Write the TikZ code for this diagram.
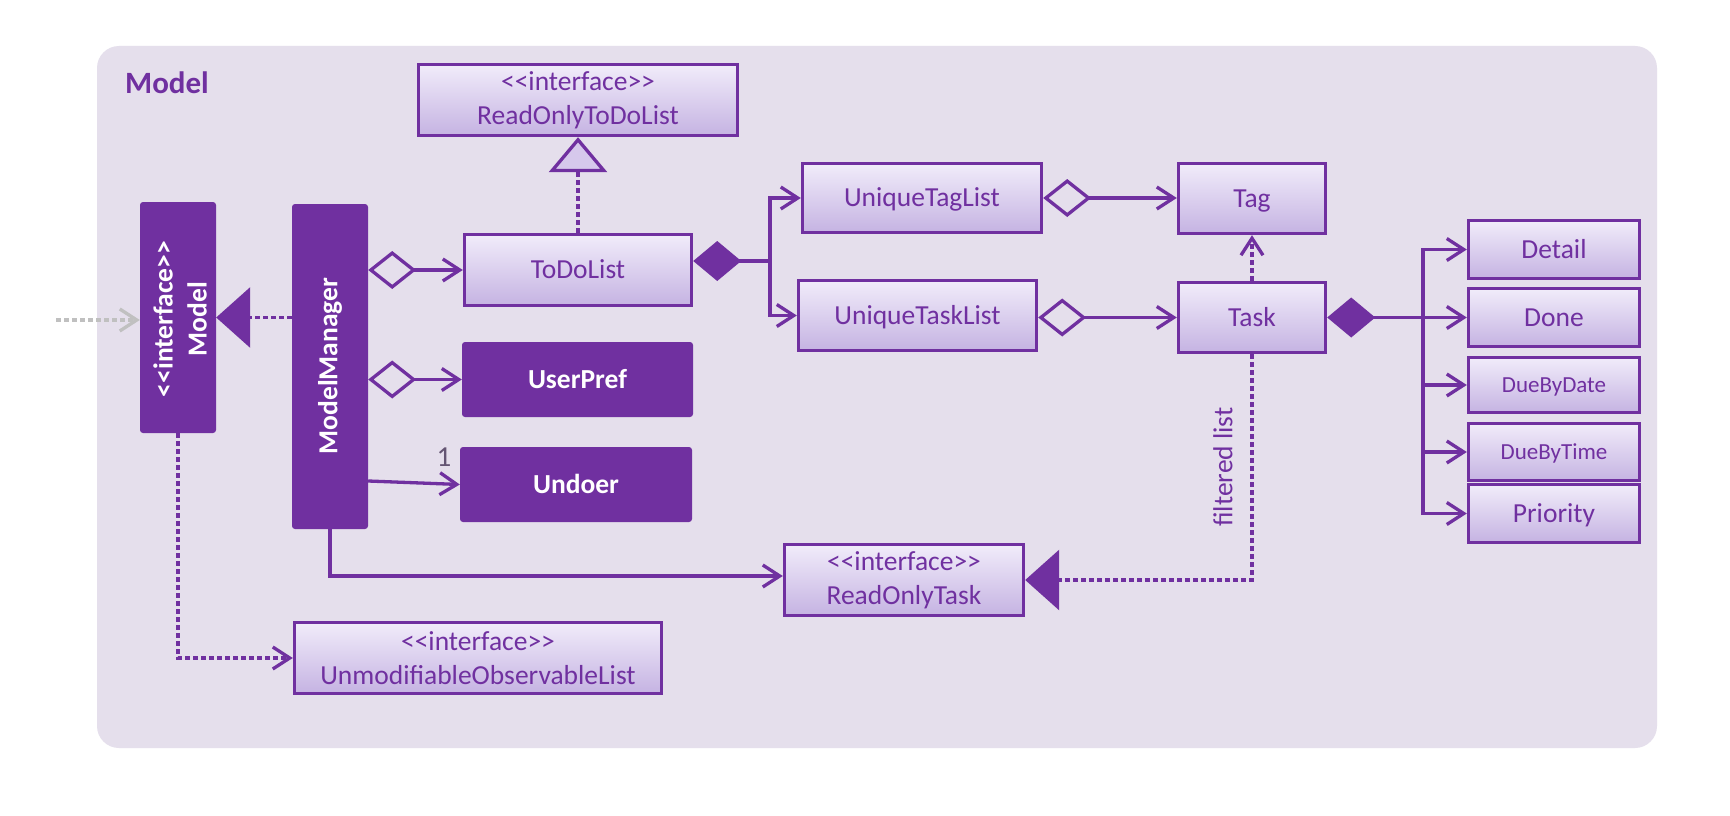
\documentclass[tikz,border=0pt]{standalone}
\usepackage{fontspec}
\setmainfont{Carlito}
\usetikzlibrary{arrows.meta}

\definecolor{pp}{RGB}{112,48,160}
\definecolor{panel}{RGB}{229,223,236}
\definecolor{boxtop}{RGB}{241,236,250}
\definecolor{boxbot}{RGB}{197,179,226}
\definecolor{trifill}{RGB}{214,200,236}
\definecolor{extgray}{RGB}{192,192,192}
\definecolor{multgray}{RGB}{100,85,115}

% stereotype text; the kerns keep << and >> from turning into guillemets
\newcommand{\stereo}[1]{<\kern0pt<#1>\kern0pt>}

\tikzset{
  oDia/.tip={Diamond[open,length=48pt,width=38pt]},
  fDia/.tip={Diamond[length=48pt,width=40pt]},
  oBarb/.tip={Straight Barb[length=17pt,width=22pt]},
  fTri/.tip={Triangle[length=34pt,width=60pt]},
  hTri/.tip={Triangle[length=35pt,width=58pt,fill=trifill]},
  txt/.style={font=\fontsize{27.5}{34}\selectfont},
  cls/.style={txt, draw=pp, line width=3.4pt, top color=boxtop, bottom color=boxbot,
    text=pp, inner sep=0pt, align=center},
  one/.style={text height=17.7pt, text depth=0pt},
  small/.style={font=\fontsize{23}{28}\selectfont, text height=14.8pt},
  dark/.style={fill=pp, draw=none, rounded corners=3pt, text=white, inner sep=0pt,
    align=center, font=\bfseries\fontsize{27.5}{34}\selectfont},
  darktext/.style={text=white, inner sep=0pt, align=center,
    font=\bfseries\fontsize{27.5}{34}\selectfont},
  conn/.style={draw=pp, line width=3.3pt},
  dots/.style={dash pattern=on 4.5pt off 3.5pt},
  agg/.style={conn, oDia-oBarb},
  comp/.style={conn, fDia-oBarb},
  assoc/.style={conn, -oBarb},
  dep/.style={conn, dots, -oBarb},
  realf/.style={conn, dots, -fTri},
  realh/.style={conn, dots, -hTri},
  extdep/.style={draw=extgray, line width=3.3pt, dots, -oBarb},
}

\begin{document}
\begin{tikzpicture}[x=1pt, y=-1pt]
  % canvas and package panel
  \fill[white] (0,0) rectangle (1730,816);
  \useasboundingbox (0,0) rectangle (1730,816);
  \fill[panel, rounded corners=22pt] (97,46) rectangle (1657,748);

  \node[anchor=base west, text=pp, inner sep=0pt,
        font=\bfseries\fontsize{31}{36}\selectfont] (title) at (125,93) {Model};

  % classes
  \node[cls, minimum width=319pt, minimum height=71pt] (rotdl) at (578,100)
    {\stereo{interface}\\ReadOnlyToDoList};
  \node[cls, one, minimum width=227pt, minimum height=71pt] (todo) at (578,270) {ToDoList};
  \node[cls, one, minimum width=239pt, minimum height=69pt] (utag) at (922,198) {UniqueTagList};
  \node[cls, one, minimum width=238pt, minimum height=70pt] (utask) at (917.5,315.5) {UniqueTaskList};
  \node[cls, one, minimum width=147pt, minimum height=70pt] (tag) at (1252,198.5) {Tag};
  \node[cls, one, minimum width=147pt, minimum height=70pt] (task) at (1252,317.5) {Task};
  \node[cls, one, minimum width=171pt, minimum height=58pt] (detail) at (1554,249.5) {Detail};
  \node[cls, one, minimum width=171pt, minimum height=58pt] (done) at (1554,317.5) {Done};
  \node[cls, small, text depth=0pt, minimum width=171pt, minimum height=55pt] (dbd) at (1554,385) {DueByDate};
  \node[cls, small, text depth=0pt, minimum width=171pt, minimum height=57pt] (dbt) at (1554,452) {DueByTime};
  \node[cls, one, minimum width=171pt, minimum height=58pt] (prio) at (1554,513.5) {Priority};
  \node[cls, minimum width=239pt, minimum height=71pt] (rot) at (904,580)
    {\stereo{interface}\\ReadOnlyTask};
  \node[cls, minimum width=367pt, minimum height=71pt] (unmod) at (478,658)
    {\stereo{interface}\\UnmodifiableObservableList};

  \node[dark, minimum width=76pt, minimum height=231pt] (model) at (178,317.5) {};
  \node[dark, minimum width=76pt, minimum height=325pt] (mm) at (330,366.5) {};
  \node[dark, text height=17.7pt, text depth=0pt, minimum width=231pt, minimum height=75pt] (upref) at (577.5,379.5) {UserPref};
  \node[dark, text height=17.7pt, text depth=0pt, minimum width=232pt, minimum height=75pt] (undoer) at (576,484.5) {Undoer};
  \node[darktext, rotate=90] (modeltext) at (180,319) {\stereo{interface}\\Model};
  \node[darktext, rotate=90] (mmtext) at (330,366) {ModelManager};

  % junction points of the branching connectors
  \coordinate (tdj) at (770,261);
  \coordinate (tj) at (1423,317.5);
  \coordinate (ext) at (56,320);

  % connectors
  \draw[extdep] (ext) -- (ext -| model.west);
  \draw[realf] (mm.west |- model.east) -- (model.east);
  \draw[dep] (model.south) |- (unmod.west);

  \draw[agg] (mm.east |- todo.west) -- (todo.west);
  \draw[agg] (mm.east |- upref.west) -- (upref.west);
  \draw[assoc] ([yshift=-114.5pt]mm.east) -- (undoer.west);
  \node[text=multgray, inner sep=0pt, font=\fontsize{29}{34}\selectfont] (mult) at (444,457) {1};
  \draw[assoc] (mm.south) |- ([yshift=4pt]rot.west);

  \draw[realh] (todo.north) -- (rotdl.south);
  \draw[comp] ([yshift=9pt]todo.east) -- (tdj) |- (utag.west);
  \draw[assoc] (tdj) |- (utask.west);

  \draw[agg] (utag.east) -- (utag.east -| tag.west);
  \draw[agg] (utask.east |- task.west) -- (task.west);

  \draw[dep] (task.north) -- (tag.south);
  \draw[realf] (task.south) |- (rot.east);
  \node[text=pp, txt, inner sep=0pt, rotate=90] (fl) at (1223,467) {filtered list};

  \draw[comp] (task.east) -- (done.west);
  \draw[assoc] (tj) |- (detail.west);
  \draw[assoc] (tj) |- (dbd.west);
  \draw[assoc] (tj) |- (dbt.west);
  \draw[assoc] (tj) |- (prio.west);
\end{tikzpicture}
\end{document}
